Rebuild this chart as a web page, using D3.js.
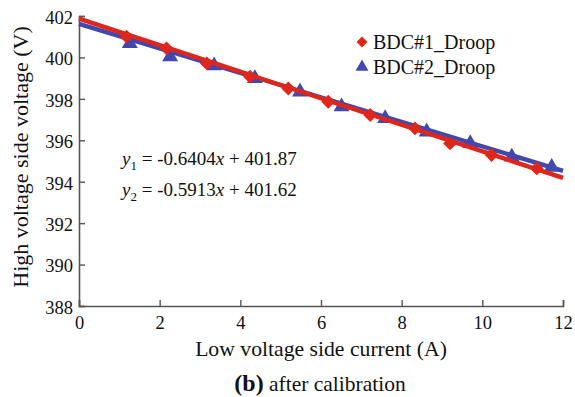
<!DOCTYPE html>
<html>
<head>
<meta charset="utf-8">
<script src="https://cdn.jsdelivr.net/npm/d3@7"></script>
<style>
  body { margin: 0; background: #fff; }
  text { font-family: "Liberation Serif", "Times New Roman", serif; fill: #111; }
</style>
</head>
<body>
<div id="container"></div>
<script>
let w = 575;
let h = 397;

// DATA
let bdc1Current = [1.18, 2.17, 3.17, 4.24, 5.19, 6.18, 7.22, 8.33, 9.2, 10.23, 11.35];
let bdc1Voltage = [401.0, 400.44, 399.71, 399.07, 398.5, 397.86, 397.22, 396.58, 395.85, 395.29, 394.64];
let bdc2Current = [1.26, 2.26, 3.35, 4.36, 5.48, 6.51, 7.59, 8.62, 9.7, 10.73, 11.72];
let bdc2Voltage = [400.68, 400.04, 399.6, 398.99, 398.34, 397.62, 397.06, 396.41, 395.85, 395.2, 394.7];
let fitSlope = [-0.6404, -0.5913];
let fitIntercept = [401.87, 401.62];
let seriesNames = ["BDC#1_Droop", "BDC#2_Droop"];
let xTicks = [0, 2, 4, 6, 8, 10, 12];
let yTicks = [388, 390, 392, 394, 396, 398, 400, 402];

let red = "#e0261b";
let blue = "#4148b0";

let viz = d3.select("#container").append("svg")
    .attr("width", w)
    .attr("height", h)
;

// SCALES
let xScale = d3.scaleLinear().domain([0, 12]).range([79, 563]);
let yScale = d3.scaleLinear().domain([388, 402]).range([306, 16]);

// AXES (ticks point inward)
let xAxis = d3.axisBottom(xScale).tickValues(xTicks).tickSize(-6).tickPadding(10).tickFormat(d3.format("d"));
let yAxis = d3.axisLeft(yScale).tickValues(yTicks).tickSize(-6).tickPadding(6).tickFormat(d3.format("d"));

let gx = viz.append("g").attr("transform", "translate(0,306)").call(xAxis);
let gy = viz.append("g").attr("transform", "translate(79,0)").call(yAxis);
[gx, gy].forEach(function(g){
  g.select(".domain").attr("stroke", "#555").attr("stroke-width", 1.6);
  g.selectAll(".tick line").attr("stroke", "#555").attr("stroke-width", 1.4);
  g.selectAll(".tick text").attr("font-size", 18.5).attr("font-family", "Liberation Serif").attr("fill", "#111");
});
gx.selectAll(".tick text").attr("dy", "0.72em");
gy.selectAll(".tick text").attr("dy", "0.4em");

// FIT LINES + POINTS
// diamond = square turned 45 degrees (d3's symbolDiamond is too narrow)
let symDiamond = d3.symbol().type(d3.symbolSquare).size(95);
let symTriangle = d3.symbol().type(d3.symbolTriangle).size(110);

let layers = [
  { xs: bdc2Current, ys: bdc2Voltage, k: 1, color: blue, sym: symTriangle, rot: 0 },
  { xs: bdc1Current, ys: bdc1Voltage, k: 0, color: red, sym: symDiamond, rot: 45 }
];

layers.forEach(function(s){
  let lineData = [0, 12].map(function(x){ return [x, fitSlope[s.k] * x + fitIntercept[s.k]]; });
  viz.append("path")
    .attr("d", d3.line().x(function(d){ return xScale(d[0]); }).y(function(d){ return yScale(d[1]); })(lineData))
    .attr("stroke", s.color)
    .attr("stroke-width", 4.5)
    .attr("fill", "none");
  viz.selectAll(".pt" + s.k).data(d3.range(s.xs.length)).enter()
    .append("path")
      .attr("class", "pt" + s.k)
      .attr("d", s.sym)
      .attr("transform", function(i){
        return "translate(" + xScale(s.xs[i]) + "," + yScale(s.ys[i]) + ") rotate(" + s.rot + ")";
      })
      .attr("fill", s.color);
});

// LEGEND
let legend = viz.append("g");
[0, 1].forEach(function(k){
  let ly = 42 + k * 25;
  legend.append("path")
    .attr("d", k == 0 ? d3.symbol().type(d3.symbolSquare).size(60)() : d3.symbol().type(d3.symbolTriangle).size(72)())
    .attr("transform", "translate(362," + ly + ")" + (k == 0 ? " rotate(45)" : ""))
    .attr("fill", k == 0 ? red : blue);
  legend.append("text")
    .attr("x", 373).attr("y", ly + 7)
    .attr("font-size", 20)
    .text(seriesNames[k]);
});

// EQUATIONS
[0, 1].forEach(function(k){
  let t = viz.append("text").attr("x", 122).attr("y", 165 + k * 31).attr("font-size", 19);
  t.append("tspan").attr("font-style", "italic").text("y");
  t.append("tspan").attr("font-size", 13).attr("dy", 5).text(k + 1);
  t.append("tspan").attr("dy", -5).text(" = " + fitSlope[k].toFixed(4));
  t.append("tspan").attr("font-style", "italic").text("x");
  t.append("tspan").text(" + " + fitIntercept[k].toFixed(2));
});

// AXIS TITLES
viz.append("text")
  .attr("x", 321).attr("y", 356)
  .attr("text-anchor", "middle")
  .attr("font-size", 21.7)
  .text("Low voltage side current (A)");

viz.append("text")
  .attr("transform", "translate(28,157) rotate(-90)")
  .attr("text-anchor", "middle")
  .attr("font-size", 22)
  .text("High voltage side voltage (V)");

// CAPTION
let cap = viz.append("text")
  .attr("x", 320).attr("y", 391)
  .attr("text-anchor", "middle")
  .attr("font-size", 21.5);
cap.append("tspan").attr("font-weight", "bold").attr("font-size", 24).text("(b)");
cap.append("tspan").text(" after calibration");
</script>
</body>
</html>
